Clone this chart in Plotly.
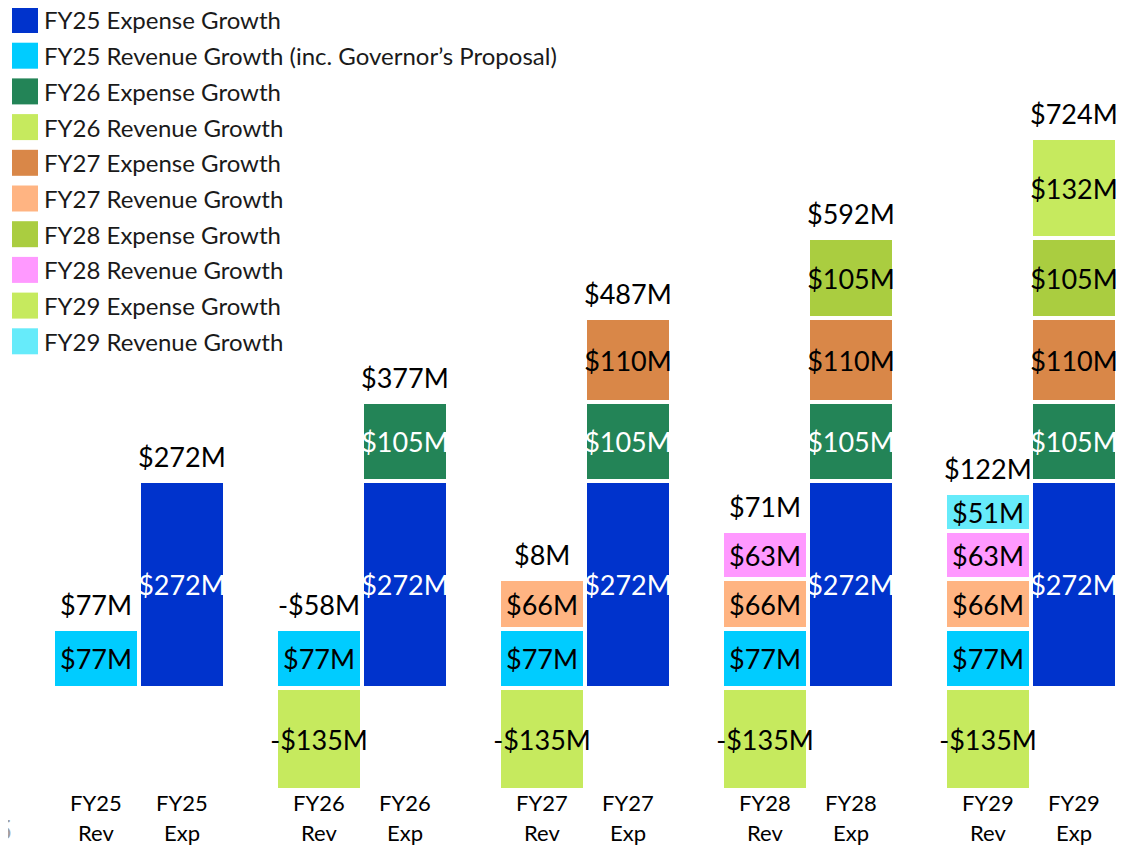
import plotly.graph_objects as go

groups = ["FY25", "FY26", "FY27", "FY28", "FY29"]

# expense-side components, one value per year's Exp bar
fy25_exp = [272, 272, 272, 272, 272]
fy26_exp = [None, 105, 105, 105, 105]
fy27_exp = [None, None, 110, 110, 110]
fy28_exp = [None, None, None, 105, 105]
fy29_exp = [None, None, None, None, 132]

# revenue-side components, one value per year's Rev bar
fy25_rev = [77, 77, 77, 77, 77]
fy26_rev = [None, -135, -135, -135, -135]
fy27_rev = [None, None, 66, 66, 66]
fy28_rev = [None, None, None, 63, 63]
fy29_rev = [None, None, None, None, 51]

# the page body adds an 8px margin, so the figure is 8px smaller each way
W, H = 1127, 837
ML, MB = 18, 53
PLOT_W, PLOT_H = W - ML, H - MB

GROUP_STEP = 2.593
BAR_W = 1.0
rev_x = [i * GROUP_STEP for i in range(len(groups))]
exp_x = [i * GROUP_STEP + 1 for i in range(len(groups))]

FONT = "Lato, 'Open Sans', sans-serif"


def money(v):
    return f"-${abs(v)}M" if v < 0 else f"${v}M"


def px_x(p):
    return (p - ML) / PLOT_W


def px_y(p):
    return (PLOT_H - p) / PLOT_H


series = [
    ("FY25 Expense Growth", fy25_exp, exp_x, "#0033CC", "white"),
    ("FY25 Revenue Growth (inc. Governor’s Proposal)", fy25_rev, rev_x, "#00CCFF", "black"),
    ("FY26 Expense Growth", fy26_exp, exp_x, "#238457", "white"),
    ("FY26 Revenue Growth", fy26_rev, rev_x, "#C6EA5E", "black"),
    ("FY27 Expense Growth", fy27_exp, exp_x, "#D98748", "black"),
    ("FY27 Revenue Growth", fy27_rev, rev_x, "#FFB482", "black"),
    ("FY28 Expense Growth", fy28_exp, exp_x, "#AACD40", "black"),
    ("FY28 Revenue Growth", fy28_rev, rev_x, "#FF99FF", "black"),
    ("FY29 Expense Growth", fy29_exp, exp_x, "#C6EA5E", "black"),
    ("FY29 Revenue Growth", fy29_rev, rev_x, "#66EBFA", "black"),
]

fig = go.Figure()
for i, (name, vals, xs, color, tcolor) in enumerate(series):
    fig.add_trace(go.Bar(
        name=name,
        x=xs,
        y=vals,
        width=BAR_W,
        marker=dict(color=color, line=dict(color="white", width=4)),
        text=[money(v) if v is not None else "" for v in vals],
        textposition="inside",
        insidetextanchor="middle",
        constraintext="none",
        textangle=0,
        textfont=dict(family=FONT, size=27, color=tcolor),
        hoverinfo="skip",
        showlegend=False,
    ))
    # legend drawn by hand so the swatches can be full-size squares
    cy = 12 + 35.7 * i
    fig.add_shape(
        type="rect", xref="paper", yref="paper",
        x0=px_x(4), x1=px_x(30), y0=px_y(cy + 13), y1=px_y(cy - 13),
        fillcolor=color, line=dict(width=0),
    )
    fig.add_annotation(
        xref="paper", yref="paper", x=px_x(35), y=px_y(cy),
        xanchor="left", yanchor="middle", text=name, showarrow=False,
        borderpad=0,
        font=dict(family=FONT, size=24, color="#1a1a1a"),
    )

# totals above each stack
rev_parts = [fy25_rev, fy26_rev, fy27_rev, fy28_rev, fy29_rev]
exp_parts = [fy25_exp, fy26_exp, fy27_exp, fy28_exp, fy29_exp]
for parts, xs in ((rev_parts, rev_x), (exp_parts, exp_x)):
    for i, x in enumerate(xs):
        col = [p[i] for p in parts if p[i] is not None]
        net = sum(col)
        top = sum(v for v in col if v > 0)
        fig.add_annotation(
            x=x, y=top, text=money(net), showarrow=False,
            yanchor="bottom", yshift=6,
            font=dict(family=FONT, size=27, color="black"),
        )

# category labels, two rows under the bars
for g, rx, ex in zip(groups, rev_x, exp_x):
    for x, kind in ((rx, "Rev"), (ex, "Exp")):
        for txt, shift in ((g, -10), (kind, -40)):
            fig.add_annotation(
                x=x, xref="x", yref="paper", y=0, yanchor="middle",
                yshift=shift, text=txt, showarrow=False, borderpad=0,
                font=dict(family=FONT, size=22, color="black"),
            )

# cut-off slide number at the left edge
fig.add_annotation(
    xref="paper", yref="paper", x=px_x(5), y=0, xanchor="right", yanchor="middle",
    yshift=-38, text="5", showarrow=False, borderpad=0,
    font=dict(family=FONT, size=26, color="#a0a0a0"),
)

fig.update_layout(
    width=W,
    height=H,
    barmode="relative",
    bargap=0,
    paper_bgcolor="white",
    plot_bgcolor="white",
    margin=dict(l=ML, r=0, t=0, b=MB),
    showlegend=False,
    xaxis=dict(
        range=[-70 / 86, -70 / 86 + PLOT_W / 86],
        showticklabels=False,
        showgrid=False,
        zeroline=False,
        showline=False,
        ticks="",
    ),
    yaxis=dict(
        range=[-137, 895],
        visible=False,
        showgrid=False,
        zeroline=True,
        zerolinecolor="black",
        zerolinewidth=4,
    ),
)

fig.write_html("out.html")
